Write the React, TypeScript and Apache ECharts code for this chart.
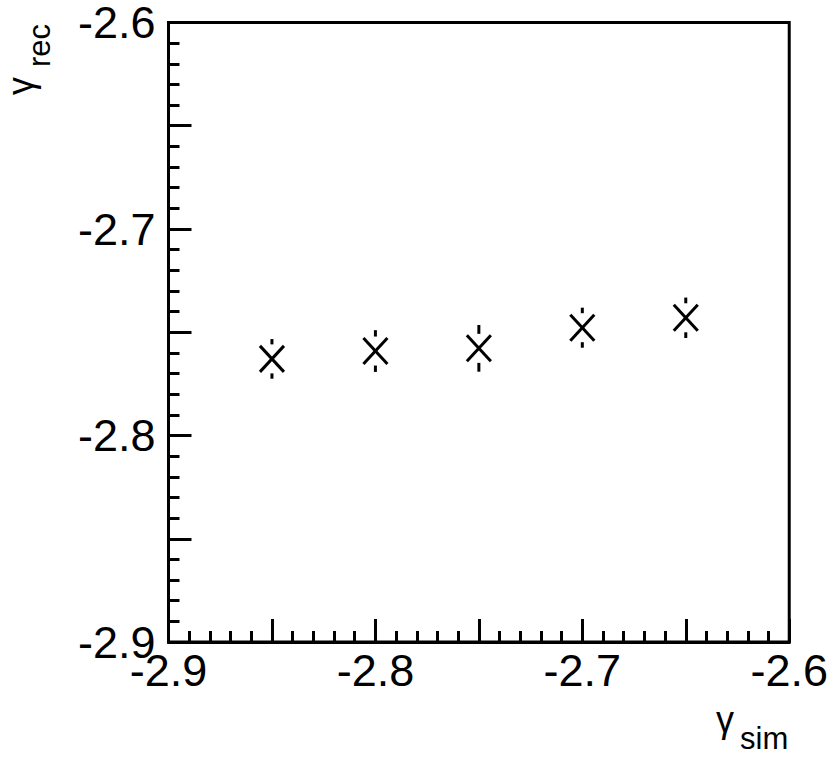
import React, { useEffect, useRef } from "react";
import * as echarts from "echarts";

const xValues = [-2.85, -2.8, -2.75, -2.7, -2.65];
const yValues = [-2.7629, -2.7591, -2.7578, -2.7478, -2.743];
const yErrors = [0.0096, 0.0101, 0.0113, 0.0097, 0.0098];

const axisMin = -2.9;
const axisMax = -2.6;
const tickStep = 0.05;

const FONT = "'Liberation Sans', Helvetica, Arial, sans-serif";

const labelFmt = (v: number) => {
  const k = Math.round(v * 100);
  if (k % 10 !== 0) return "";
  return (k / 100).toFixed(1);
};

export default function App() {
  const ref = useRef<HTMLDivElement>(null);
  useEffect(() => {
    if (!ref.current) return;
    const chart = echarts.init(ref.current, null, { renderer: "svg" });
    const data = xValues.map((x, i) => [x, yValues[i], yErrors[i]]);
    const commonAxis = (isX: boolean) => ({
      type: "value" as const,
      min: axisMin,
      max: axisMax,
      interval: tickStep,
      axisLine: { show: true, onZero: false, lineStyle: { color: "#000", width: 3 } },
      axisTick: { show: true, inside: true, length: 23, lineStyle: { color: "#000", width: 3 } },
      minorTick: { show: true, splitNumber: 5, length: 11, lineStyle: { color: "#000", width: 3 } },
      splitLine: { show: false },
      minorSplitLine: { show: false },
      axisLabel: {
        show: true,
        formatter: labelFmt,
        fontSize: 45,
        lineHeight: isX ? 52 : 40,
        fontFamily: FONT,
        color: "#000",
        margin: isX ? 2 : 13,
        showMinLabel: true,
        showMaxLabel: true,
        hideOverlap: false,
      },
    });
    chart.setOption({
      animation: false,
      backgroundColor: "#fff",
      grid: {
        left: 168.5,
        right: 40,
        top: 22.5,
        bottom: 115,
        show: true,
        borderColor: "#000",
        borderWidth: 3,
        backgroundColor: "transparent",
      },
      xAxis: commonAxis(true),
      yAxis: commonAxis(false),
      graphic: [
        { type: "text", x: 716, y: 719.4, style: { text: "γ", fontSize: 36, fontFamily: FONT, fill: "#000", align: "left", verticalAlign: "middle" } },
        { type: "text", x: 740, y: 738, style: { text: "sim", fontSize: 31, fontFamily: FONT, fill: "#000", align: "left", verticalAlign: "middle" } },
        { type: "text", x: 20.4, y: 95, rotation: Math.PI / 2, style: { text: "γ", fontSize: 36, fontFamily: FONT, fill: "#000", align: "left", verticalAlign: "middle" } },
        { type: "text", x: 39, y: 67, rotation: Math.PI / 2, style: { text: "rec", fontSize: 31, fontFamily: FONT, fill: "#000", align: "left", verticalAlign: "middle" } },
      ],
      series: [
        {
          type: "custom",
          data,
          clip: false,
          renderItem: (params: any, api: any) => {
            const x = api.value(0);
            const y = api.value(1);
            const e = api.value(2);
            const c = api.coord([x, y]);
            const ty = api.coord([x, y + e])[1];
            const by = api.coord([x, y - e])[1];
            const hw = 12;
            const hh = 13;
            const gap = 14.5;
            const st = { stroke: "#000", lineWidth: 3, lineCap: "butt" };
            const children: any[] = [
              { type: "line", shape: { x1: c[0] - hw, y1: c[1] - hh, x2: c[0] + hw, y2: c[1] + hh }, style: st },
              { type: "line", shape: { x1: c[0] - hw, y1: c[1] + hh, x2: c[0] + hw, y2: c[1] - hh }, style: st },
            ];
            if (c[1] - ty > gap) children.push({ type: "line", shape: { x1: c[0], y1: ty, x2: c[0], y2: c[1] - gap }, style: st });
            if (by - c[1] > gap) children.push({ type: "line", shape: { x1: c[0], y1: c[1] + gap, x2: c[0], y2: by }, style: st });
            return { type: "group", children };
          },
        },
      ],
    });
    return () => chart.dispose();
  }, []);
  return <div ref={ref} style={{ position: "absolute", left: 0, top: 0, width: 831, height: 757 }} />;
}
